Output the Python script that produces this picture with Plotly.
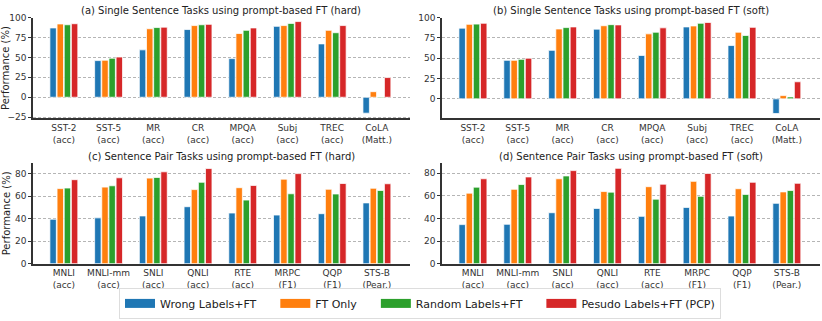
import plotly.graph_objects as go
from plotly.subplots import make_subplots

# tasks and metric labels
single_tasks = ["SST-2", "SST-5", "MR", "CR", "MPQA", "Subj", "TREC", "CoLA"]
single_metrics = ["acc", "acc", "acc", "acc", "acc", "acc", "acc", "Matt."]
pair_tasks = ["MNLI", "MNLI-mm", "SNLI", "QNLI", "RTE", "MRPC", "QQP", "STS-B"]
pair_metrics = ["acc", "acc", "acc", "acc", "acc", "F1", "F1", "Pear."]

series_names = ["Wrong Labels+FT", "FT Only", "Random Labels+FT", "Pesudo Labels+FT (PCP)"]
colors = ["#1f77b4", "#ff7f0e", "#2ca02c", "#d62728"]

# (a) single sentence, hard prompt
a_wrong = [87.0, 46.0, 59.5, 85.0, 48.5, 89.0, 67.0, -20.0]
a_ft = [92.0, 46.5, 86.0, 90.0, 80.0, 90.0, 84.0, 7.0]
a_random = [91.0, 49.0, 87.5, 91.0, 84.0, 92.7, 81.0, -1.0]
a_pcp = [92.3, 50.5, 88.0, 91.5, 87.0, 95.0, 90.0, 24.7]

# (b) single sentence, soft prompt
b_wrong = [87.0, 47.4, 59.7, 85.8, 53.4, 88.5, 65.6, -18.0]
b_ft = [91.7, 47.4, 86.0, 90.0, 80.0, 89.7, 82.0, 4.0]
b_random = [92.0, 48.6, 87.7, 91.3, 82.0, 93.0, 78.0, 2.4]
b_pcp = [93.0, 50.0, 88.5, 91.0, 87.4, 94.0, 88.0, 21.0]

# (c) sentence pair, hard prompt
c_wrong = [39.5, 40.7, 42.4, 50.6, 45.0, 43.2, 44.4, 54.0]
c_ft = [66.7, 68.0, 76.0, 65.8, 67.5, 75.1, 66.1, 67.0]
c_random = [67.2, 69.2, 76.6, 72.3, 56.5, 62.1, 61.9, 65.0]
c_pcp = [74.6, 76.3, 81.6, 84.5, 69.5, 80.0, 71.2, 71.0]

# (d) sentence pair, soft prompt
d_wrong = [34.5, 34.8, 45.0, 48.8, 41.8, 49.7, 42.1, 53.3]
d_ft = [62.3, 65.7, 75.0, 63.7, 68.0, 72.7, 66.2, 63.4]
d_random = [67.6, 69.9, 77.5, 63.2, 57.0, 59.5, 61.2, 64.6]
d_pcp = [75.0, 76.6, 82.2, 84.2, 70.2, 79.7, 71.9, 71.0]

panels = [
    (1, 1, single_tasks, single_metrics, [a_wrong, a_ft, a_random, a_pcp],
     "(a) Single Sentence Tasks using prompt-based FT (hard)", [-26.5, 100], [-25, 0, 25, 50, 75, 100]),
    (1, 2, single_tasks, single_metrics, [b_wrong, b_ft, b_random, b_pcp],
     "(b) Single Sentence Tasks using prompt-based FT (soft)", [-24, 100], [0, 25, 50, 75, 100]),
    (2, 1, pair_tasks, pair_metrics, [c_wrong, c_ft, c_random, c_pcp],
     "(c) Sentence Pair Tasks using prompt-based FT (hard)", [0, 89.5], [0, 20, 40, 60, 80]),
    (2, 2, pair_tasks, pair_metrics, [d_wrong, d_ft, d_random, d_pcp],
     "(d) Sentence Pair Tasks using prompt-based FT (soft)", [0, 89], [0, 20, 40, 60, 80]),
]

W, H = 822, 321
FONT = "DejaVu Sans"

fig = make_subplots(rows=2, cols=2)

x_domains = {1: [33 / W, 410 / W], 2: [442 / W, 820 / W]}
y_domains = {1: [1 - 117 / H, 1 - 13 / H], 2: [1 - 267 / H, 1 - 163 / H]}
title_y = {1: 1 - 6 / H, 2: 1 - 156 / H}

for row, col, tasks, metrics, values, title, yrange, yticks in panels:
    labels = [f"{t}<br>({m})" for t, m in zip(tasks, metrics)]
    for name, color, vals in zip(series_names, colors, values):
        fig.add_trace(go.Bar(
            x=labels, y=vals, name=name, showlegend=False,
            marker=dict(color=color, line=dict(color="rgba(255,255,255,0.75)", width=1)),
        ), row=row, col=col)

    fig.update_xaxes(
        domain=x_domains[col], range=[-0.69, 7.74],
        showline=True, linecolor="#333333", linewidth=1.5,
        ticks="", tickfont=dict(size=9, color="#333333"),
        showgrid=False, zeroline=False, row=row, col=col)
    fig.update_yaxes(
        domain=y_domains[row], range=yrange, tickvals=yticks,
        showline=True, linecolor="#333333", linewidth=1.5,
        ticks="outside", ticklen=3, tickcolor="#333333",
        tickfont=dict(size=9, color="#333333"),
        showgrid=True, gridcolor="#b5b5b5", gridwidth=1, griddash="3px,2px",
        zeroline=False, row=row, col=col)

    fig.add_annotation(
        text=title, xref="paper", yref="paper",
        x=sum(x_domains[col]) / 2, y=title_y[row],
        xanchor="center", yanchor="middle", showarrow=False,
        font=dict(size=10, color="#222222", family=FONT))

    if col == 1:
        fig.add_annotation(
            text="Performance (%)", xref="paper", yref="paper",
            x=6 / W, y=sum(y_domains[row]) / 2, textangle=-90,
            xanchor="center", yanchor="middle", showarrow=False,
            font=dict(size=10, color="#222222", family=FONT))

# legend entries with wide swatches; pad all but the last name for wider spacing
for i, (name, color) in enumerate(zip(series_names, colors)):
    pad = "\u00a0" * 4 if i < len(series_names) - 1 else ""
    fig.add_trace(go.Scatter(
        x=[None], y=[None], mode="lines", name=name + pad,
        line=dict(color=color, width=9), showlegend=True,
    ), row=2, col=2)

fig.update_layout(
    width=W, height=H,
    margin=dict(l=0, r=0, t=0, b=0),
    plot_bgcolor="white", paper_bgcolor="white",
    font=dict(family=FONT, color="#222222"),
    barmode="group", bargap=0.36, bargroupgap=0.1,
    legend=dict(
        orientation="h", x=420 / W, y=1 - 308 / H,
        xanchor="center", yanchor="middle",
        font=dict(size=11, color="#222222"),
        bordercolor="#dddddd", borderwidth=1,
        itemwidth=30,
    ),
)

# the page body has a default 8px margin; drop it so the figure sits at (0, 0)
fig.write_html("out.html", config={"displayModeBar": False},
               post_script="document.body.style.margin='0';")
